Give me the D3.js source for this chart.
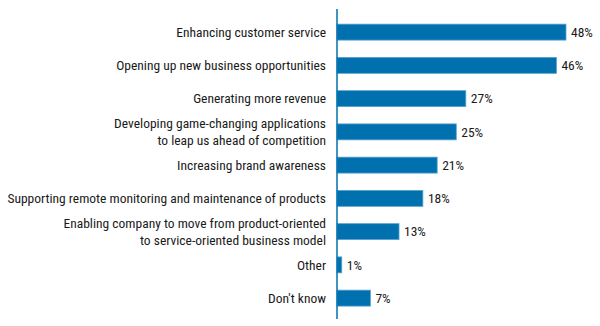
<!DOCTYPE html>
<html>
<head>
<meta charset="utf-8">
<script src="https://cdn.jsdelivr.net/npm/d3@7"></script>
<style>
  body { margin: 0; background: #fff; }
  text { font-family: "Roboto Condensed", "Liberation Sans Narrow", "DejaVu Sans Condensed", sans-serif; fill: #1a1a1a; }
</style>
</head>
<body>
<div id="chart"></div>
<script>
// the answers, top to bottom
const categories = [
    ["Enhancing customer service"],
    ["Opening up new business opportunities"],
    ["Generating more revenue"],
    ["Developing game-changing applications", "to leap us ahead of competition"],
    ["Increasing brand awareness"],
    ["Supporting remote monitoring and maintenance of products"],
    ["Enabling company to move from product-oriented", "to service-oriented business model"],
    ["Other"],
    ["Don't know"]
];
const values = [48, 46, 27, 25, 21, 18, 13, 1, 7];

const width = 600, height = 326;
const axisX = 337;

const svg = d3.select("#chart")
    .append("svg")
    .attr("width", width)
    .attr("height", height);

const x = d3.scaleLinear()
    .domain([0, 48])
    .range([axisX, 566]);

const y = d3.scaleBand()
    .domain(d3.range(values.length))
    .range([15.5, 314.75])
    .paddingInner(0.52)
    .paddingOuter(0.26);

// bars
svg.selectAll("rect.bar")
    .data(values)
    .enter().append("rect")
    .attr("class", "bar")
    .attr("x", x(0))
    .attr("y", (d, i) => y(i))
    .attr("width", d => x(d) - x(0))
    .attr("height", y.bandwidth())
    .attr("fill", "#0071ae")
    .attr("stroke", "#5aa3cf")
    .attr("stroke-width", 0.8);

// value labels
svg.selectAll("text.val")
    .data(values)
    .enter().append("text")
    .attr("class", "val")
    .attr("x", d => x(d) + 5)
    .attr("y", (d, i) => y(i) + y.bandwidth() / 2)
    .attr("dy", "0.35em")
    .style("font-size", "13.5px")
    .text(d => d + "%");

// category labels, some wrap over two lines
const lab = svg.selectAll("text.cat")
    .data(categories)
    .enter().append("text")
    .attr("class", "cat")
    .attr("text-anchor", "end")
    .style("font-size", "13.5px")
    .attr("transform", (d, i) => "translate(326," + (y(i) + y.bandwidth() / 2) + ")");

lab.selectAll("tspan")
    .data(d => d)
    .enter().append("tspan")
    .attr("x", 0)
    .attr("y", (t, j, nodes) => (j - (nodes.length - 1) / 2) * 17)
    .attr("dy", "0.35em")
    .text(t => t);

// vertical axis line
svg.append("line")
    .attr("x1", axisX).attr("x2", axisX)
    .attr("y1", 9).attr("y2", 319)
    .attr("stroke", "#0071ae")
    .attr("stroke-width", 1.5);
</script>
</body>
</html>
